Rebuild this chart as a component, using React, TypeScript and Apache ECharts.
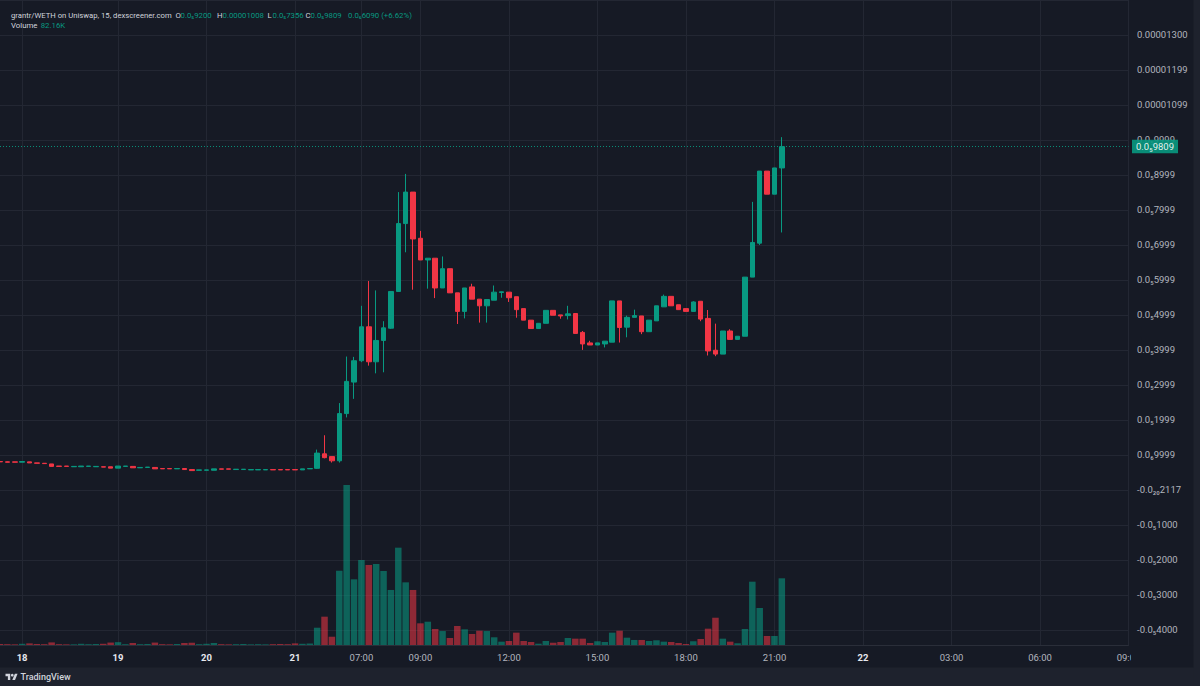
import React, { useEffect, useRef } from 'react';
import * as echarts from 'echarts';

// Prices are in units of 1e-6 WETH; volumes in thousands.
const opens = [0.81,0.80,0.80,0.79,0.80,0.77,0.76,0.74,0.68,0.68,
 0.66,0.66,0.67,0.66,0.66,0.66,0.62,0.67,0.67,0.63,
 0.64,0.64,0.61,0.61,0.60,0.61,0.58,0.56,0.56,0.56,
 0.60,0.60,0.58,0.58,0.57,0.57,0.57,0.58,0.58,0.58,
 0.58,0.57,0.60,0.615,1.03,0.95,0.83,2.18,3.08,3.69,
 4.66,3.66,4.27,4.62,5.67,7.61,8.51,7.19,6.57,6.62,
 5.77,6.32,5.63,5.10,5.80,5.45,5.26,5.42,5.64,5.65,
 5.52,5.18,4.85,4.61,4.76,5.13,5.00,4.98,5.04,4.50,
 4.20,4.14,4.17,4.22,5.40,4.65,4.93,4.97,4.52,4.83,
 5.23,5.53,5.29,5.18,5.10,5.39,4.90,3.99,3.88,4.54,
 4.30,4.39,6.08,7.05,9.11,8.45,9.20];
const closes = [0.80,0.79,0.79,0.81,0.77,0.76,0.75,0.67,0.67,0.67,
 0.67,0.68,0.68,0.67,0.65,0.62,0.68,0.68,0.63,0.64,
 0.65,0.60,0.60,0.60,0.61,0.58,0.55,0.57,0.57,0.60,
 0.59,0.59,0.59,0.59,0.58,0.58,0.58,0.57,0.57,0.57,
 0.57,0.60,0.61,1.05,0.92,0.83,2.18,3.10,3.69,4.66,
 3.66,4.27,4.63,5.67,7.61,8.51,7.17,6.57,6.62,5.77,
 6.32,5.63,5.10,5.77,5.45,5.26,5.44,5.65,5.66,5.49,
 5.15,4.85,4.61,4.76,5.13,4.99,4.97,5.03,4.47,4.17,
 4.14,4.20,4.25,5.40,4.64,4.93,4.98,4.52,4.85,5.26,
 5.53,5.26,5.15,5.10,5.37,4.88,3.97,3.88,4.54,4.30,
 4.39,6.08,7.07,9.11,8.45,9.20,9.809];
const lows = [0.79,0.79,0.79,0.79,0.77,0.76,0.75,0.67,0.67,0.67,
 0.66,0.66,0.67,0.66,0.65,0.62,0.62,0.67,0.63,0.63,
 0.64,0.60,0.60,0.60,0.60,0.58,0.55,0.56,0.56,0.56,
 0.59,0.59,0.58,0.58,0.57,0.57,0.57,0.57,0.57,0.57,
 0.57,0.57,0.60,0.60,0.90,0.78,0.78,2.07,2.60,3.65,
 3.55,3.33,3.36,4.60,5.67,6.79,5.72,6.57,5.75,5.48,
 5.77,5.63,4.74,4.90,5.45,4.78,4.78,5.42,5.49,5.37,
 4.92,4.85,4.61,4.61,4.76,4.99,4.89,4.87,4.47,4.00,
 4.14,4.14,4.07,4.22,4.21,4.36,4.93,4.45,4.52,4.83,
 5.23,5.26,5.15,5.10,5.10,4.82,3.84,3.82,3.88,4.30,
 4.30,4.39,6.08,7.00,8.45,8.45,7.356];
const highs = [0.82,0.81,0.80,0.81,0.80,0.77,0.76,0.74,0.68,0.68,
 0.67,0.68,0.68,0.67,0.66,0.66,0.68,0.68,0.67,0.64,
 0.65,0.64,0.61,0.61,0.61,0.61,0.58,0.57,0.57,0.60,
 0.60,0.60,0.59,0.59,0.58,0.58,0.58,0.58,0.58,0.58,
 0.58,0.60,0.61,1.15,1.56,0.95,2.48,3.81,3.80,5.26,
 5.97,5.70,4.82,5.67,8.51,9.03,8.51,7.40,6.62,6.62,
 6.67,6.32,5.63,5.77,5.89,5.45,5.44,5.84,5.67,5.65,
 5.52,5.18,4.85,4.76,5.13,5.13,5.00,5.26,5.04,4.54,
 4.26,4.20,4.25,5.40,5.40,4.98,5.15,4.97,4.85,5.26,
 5.58,5.53,5.29,5.18,5.39,5.39,5.14,4.75,4.54,4.59,
 4.39,6.08,8.23,9.11,9.11,9.20,10.08];
const volumesK = [1.2,1.0,0.8,1.5,2.0,1.2,1.0,3.2,1.0,0.8,
 0.8,1.5,1.0,1.2,1.5,3.0,3.5,1.0,2.5,1.0,
 1.2,3.0,1.0,0.8,1.2,2.5,2.8,1.0,1.5,2.5,
 1.0,0.8,1.0,1.2,0.8,1.0,0.8,1.0,1.2,1.0,
 2.0,1.5,1.8,
 21.3,34.9,10.2,91.5,197.1,80.9,104.7,98.6,99.8,91.2,
 67.8,119.9,77.2,67.8,26.7,28.7,19.7,17.2,8.6,23.4,
 19.3,13.6,17.6,17.2,9.5,4.1,4.9,15.2,4.9,3.7,
 1.6,4.9,2.8,3.7,8.6,7.8,7.8,2.5,4.6,3.7,
 15.2,17.6,9.0,6.2,6.2,4.9,5.8,4.1,3.7,2.5,
 1.2,4.6,7.4,20.1,33.6,7.8,4.1,2.1,19.7,78.0,
 45.6,11.1,11.1,82.16];

// Time-axis slots (bar positions, incl. empty future slots) and their labels
const slotCount = 154;
const tickIndex = [3, 16, 28, 40, 49, 57, 69, 81, 93, 105, 117, 129, 141, 153];
const tickText = ['18', '19', '20', '21', '07:00', '09:00', '12:00', '15:00', '18:00', '21:00', '22', '03:00', '06:00', '09:00'];

// Price-axis ticks (units of 1e-6) and their TradingView labels
const priceTickValues = [13, 12, 11, 10, 9, 8, 7, 6, 5, 4, 3, 2, 1, 0, -1, -2, -3, -4];
const priceTickLabels = ['0.00001300', '0.00001199', '0.00001099', '0.0₅9999', '0.0₅8999', '0.0₅7999',
  '0.0₅6999', '0.0₅5999', '0.0₅4999', '0.0₅3999', '0.0₅2999', '0.0₅1999', '0.0₆9999',
  '-0.0₂₀2117', '-0.0₅1000', '-0.0₅2000', '-0.0₅3000', '-0.0₅4000'];

const UP = '#089981';
const DOWN = '#f23645';
const BG = '#161a25';
const TXT = '#d1d4dc';
const FONT = 'Roboto, "DejaVu Sans", sans-serif';
const SUB = ['₀', '₁', '₂', '₃', '₄', '₅', '₆', '₇', '₈', '₉'];

function fmtTV(micro: number): string {
  const s = (micro * 1e-6).toFixed(14);
  const m = s.match(/^0\.(0*)(\d+)/);
  if (!m) return s;
  const zeros = m[1].length;
  const digits = (m[2] + '0000').slice(0, 4);
  if (zeros >= 5) {
    return '0.0' + String(zeros).split('').map((d) => SUB[+d]).join('') + digits;
  }
  return '0.' + m[1] + digits;
}

function hText(x: number, y: number, text: string, fill: string, size = 7.8) {
  return {
    type: 'text', x, y, z: 100,
    style: { text, fill, fontSize: size, fontFamily: FONT, verticalAlign: 'middle' },
  };
}

function buildOption() {
  const categories = Array.from({ length: slotCount }, (_, i) => String(i));
  const candles = opens.map((o, i) => [o, closes[i], lows[i], highs[i]]);
  const vols = volumesK.map((v, i) => ({
    value: v,
    itemStyle: { color: closes[i] >= opens[i] ? 'rgba(8,153,129,0.58)' : 'rgba(242,54,69,0.55)' },
  }));
  const n = opens.length - 1;
  const o = opens[n], h = highs[n], l = lows[n], c = closes[n];
  const chg = c - o;
  const pct = ((chg / o) * 100).toFixed(2);
  const lastVol = volumesK[n].toFixed(2) + 'K';

  const gridLeft = -1.54;
  const gridRight = 71.5;
  const splitLine = {
    show: true,
    interval: (i: number) => tickIndex.indexOf(i) >= 0,
    lineStyle: { color: '#232733', width: 1 },
  };

  return {
    animation: false,
    backgroundColor: BG,
    grid: [
      { left: gridLeft, right: gridRight, top: -3.8, bottom: 56.2 },
      { left: gridLeft, right: gridRight, top: 445, bottom: 41 },
    ],
    xAxis: [
      {
        type: 'category', gridIndex: 0, data: categories, boundaryGap: false,
        axisLine: { show: false }, axisTick: { show: false }, axisLabel: { show: false },
        splitLine,
      },
      {
        type: 'category', gridIndex: 1, data: categories, boundaryGap: false,
        axisLine: { show: true, lineStyle: { color: '#2a2e39' } },
        axisTick: { show: false },
        splitLine,
        axisLabel: {
          show: true,
          interval: (i: number) => tickIndex.indexOf(i) >= 0,
          margin: 7,
          formatter: (_v: string, i: number) => {
            const k = tickIndex.indexOf(i);
            if (k < 0) return '';
            const t = tickText[k];
            return t.indexOf(':') >= 0 ? `{h|${t}}` : `{d|${t}}`;
          },
          rich: {
            h: { color: '#b2b5be', fontSize: 9.5, fontFamily: FONT },
            d: { color: '#e6e8ee', fontSize: 9.5, fontWeight: 'bold', fontFamily: FONT },
          },
        },
      },
    ],
    yAxis: [
      {
        type: 'value', gridIndex: 0, position: 'right', min: -4, max: 14, interval: 1,
        axisLine: { show: false }, axisTick: { show: false },
        splitLine: { show: true, lineStyle: { color: '#232733', width: 1 } },
        axisLabel: {
          margin: 8.5, color: '#b2b5be', fontSize: 9.5, fontFamily: FONT,
          formatter: (v: number) => {
            const k = priceTickValues.indexOf(Math.round(v));
            return k >= 0 && Math.abs(v - Math.round(v)) < 1e-6 ? priceTickLabels[k] : '';
          },
        },
      },
      { type: 'value', gridIndex: 1, min: 0, max: 246.4, show: false },
    ],
    series: [
      {
        type: 'bar', xAxisIndex: 1, yAxisIndex: 1, data: vols, barWidth: 6.5, z: 1,
      },
      {
        type: 'candlestick', xAxisIndex: 0, yAxisIndex: 0, data: candles, barWidth: 5, z: 3,
        itemStyle: { color: UP, color0: DOWN, borderColor: UP, borderColor0: DOWN, borderWidth: 1 },
        markLine: {
          silent: true, symbol: ['none', 'none'], z: 10,
          lineStyle: { color: UP, type: [1, 2], width: 1, opacity: 0.9 },
          label: {
            show: true, position: 'end', distance: 3.5,
            formatter: () => fmtTV(c),
            backgroundColor: UP, color: '#ffffff', fontSize: 9.5, fontFamily: FONT,
            padding: [2, 4, 1.5, 4], lineHeight: 10,
          },
          data: [{ yAxis: c }],
        },
      },
    ],
    graphic: [
      hText(11, 15.7, 'grantr/WETH on Uniswap, 15, dexscreener.com', TXT, 7.7),
      hText(175.5, 15.7, 'O', TXT),
      hText(180.5, 15.7, fmtTV(o), UP),
      hText(217, 15.7, 'H', TXT),
      hText(222.5, 15.7, fmtTV(h), UP),
      hText(267.5, 15.7, 'L', TXT),
      hText(272.5, 15.7, fmtTV(l), UP),
      hText(305.5, 15.7, 'C', TXT),
      hText(310.5, 15.7, fmtTV(c), UP),
      hText(348, 15.7, `${fmtTV(chg)} (+${pct}%)`, UP),
      hText(11, 25, 'Volume', TXT),
      hText(40.7, 25, lastVol, UP),
      // cover for the price-axis column inside the time band (clips the last time label)
      { type: 'rect', z: 100, shape: { x: 1131, y: 645.5, width: 62.5, height: 22 }, style: { fill: BG } },
      // footer band and right strip
      { type: 'rect', z: 100, shape: { x: 0, y: 667.5, width: 1200, height: 19 }, style: { fill: '#1e222d' } },
      { type: 'rect', z: 100, shape: { x: 1193.5, y: 0, width: 7, height: 686 }, style: { fill: '#1e222d' } },
      {
        type: 'group', x: 5.5, y: 672.5, scaleX: 0.34, scaleY: 0.34, z: 101,
        children: [
          { type: 'polygon', z: 101, shape: { points: [[0, 4], [14, 4], [14, 22], [7, 22], [7, 11], [0, 11]] }, style: { fill: TXT } },
          { type: 'polygon', z: 101, shape: { points: [[20, 22], [27.5, 4], [35.5, 4], [28, 22]] }, style: { fill: TXT } },
          { type: 'circle', z: 101, shape: { cx: 20, cy: 8, r: 4 }, style: { fill: TXT } },
        ],
      },
      {
        type: 'text', x: 20.5, y: 677, z: 101,
        style: { text: 'TradingView', fill: TXT, fontSize: 9, fontFamily: FONT, fontWeight: 500, verticalAlign: 'middle' },
      },
    ],
  };
}

export default function App() {
  const ref = useRef<HTMLDivElement>(null);
  useEffect(() => {
    if (!ref.current) return;
    const chart = echarts.init(ref.current, null, { renderer: 'svg' });
    chart.setOption(buildOption() as any);
    return () => chart.dispose();
  }, []);
  return (
    <div
      ref={ref}
      style={{ position: 'fixed', left: 0, top: 0, width: 1200, height: 686, background: BG }}
    />
  );
}
